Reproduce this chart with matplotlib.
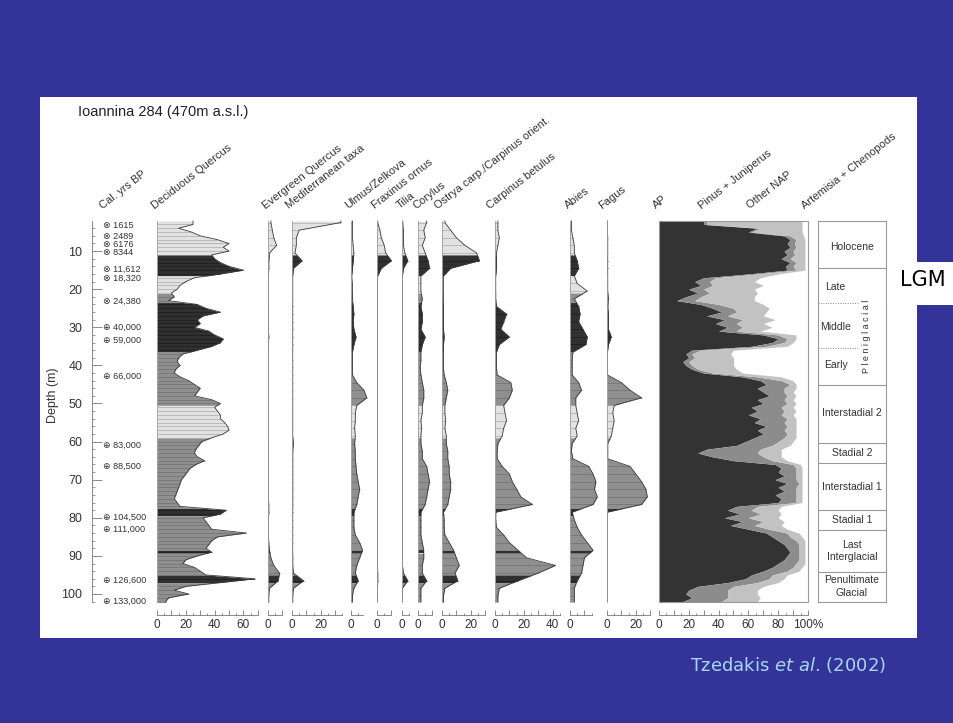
import numpy as np
import matplotlib.pyplot as plt
from matplotlib.patches import Rectangle
from matplotlib.ticker import MultipleLocator, FuncFormatter

plt.rcParams['font.family'] = ['Liberation Sans', 'DejaVu Sans']

# ---------------- data ----------------
depth = np.arange(3, 103)            # 1 m samples, m
depth_b = np.arange(2.5, 101, 2)     # 2 m samples, m

quercus = [25, 15, 24, 30, 42, 50, 46, 50, 38, 40,
           44, 50, 60, 44, 26, 20, 16, 14, 10, 12,
           8, 28, 34, 44, 32, 28, 30, 26, 36, 40,
           46, 44, 38, 28, 18, 15, 14, 16, 13, 12,
           16, 22, 26, 30, 28, 26, 38, 44, 40, 42,
           44, 44, 47, 49, 50, 46, 38, 31, 29, 27,
           26, 28, 33, 27, 23, 21, 19, 17, 16, 15,
           14, 13, 12, 14, 16, 48, 44, 32, 34, 36,
           38, 62, 42, 38, 36, 34, 38, 28, 20, 18,
           26, 30, 34, 68, 44, 20, 12, 22, 8, 6]

evergreen = [2, 3, 4, 6, 1, 0.5, 0.5, 0.3, 0.3, 0.3,
             0.3, 0.3, 0.3, 0.3, 0.3, 0.5, 0.3, 0.3, 0.3, 0.3,
             0.3, 0.3, 0.3, 0.3, 0.3, 0.3, 0.3, 0.3, 0.3, 0.3,
             0.3, 0.3, 0.3, 0.3, 0.3, 0.3, 0.3, 0.5, 0.5, 0.3,
             0.3, 0.3, 0.5, 1, 2, 4, 8, 7, 1, 0.5]

mediterranean = [34, 5, 3, 3, 2, 7, 1, 0.5, 0.5, 0.5,
                 0.5, 0.5, 0.5, 0.5, 0.5, 0.5, 0.5, 0.5, 0.5, 0.5,
                 0.5, 0.5, 0.5, 0.5, 0.5, 0.5, 0.5, 0.5, 0.5, 1,
                 0.5, 0.5, 0.5, 0.5, 0.5, 0.5, 0.5, 0.5, 0.5, 0.5,
                 0.5, 0.5, 0.5, 0.5, 0.5, 0.5, 1, 8, 1, 0.5]

ulmus = [1, 1, 1, 1.5, 2, 1.5, 1, 0.5, 1, 1,
         1, 1.5, 2, 1.5, 2, 3.5, 2, 1, 1, 1,
         1, 4, 9, 11, 4, 3, 3, 2.5, 3, 2.5,
         3, 3, 3.5, 4, 5, 6, 5, 4, 2, 2,
         2, 3, 6, 8, 6, 4, 3, 5, 2, 1]

fraxinus = [0.5, 2, 3, 5, 6, 10, 3, 0.5, 0.3, 0.3,
            0.3, 0.3, 0.3, 0.3, 0.3, 0.3, 0.3, 0.3, 0.3, 0.3,
            0.3, 0.3, 0.3, 0.3, 0.3, 0.3, 0.3, 0.3, 0.3, 0.3,
            0.3, 0.3, 0.3, 0.3, 0.3, 0.3, 0.3, 0.3, 0.3, 0.3,
            0.3, 0.3, 0.3, 0.3, 0.3, 0.3, 0.5, 0.5, 0.3, 0.3]

tilia = [0.5, 1, 1, 1, 2, 4, 1, 0.3, 0.3, 0.3,
         0.3, 0.3, 0.3, 0.3, 0.3, 0.3, 0.3, 0.3, 0.3, 0.3,
         0.3, 0.3, 0.3, 0.3, 0.3, 0.3, 0.3, 0.3, 0.3, 0.3,
         0.3, 0.3, 0.3, 0.3, 0.3, 0.3, 0.3, 0.3, 0.3, 0.3,
         0.3, 0.3, 0.3, 0.3, 0.3, 0.3, 1, 4, 0.3, 0.3]

corylus = [6, 4, 5, 3, 5, 7, 8, 2, 2, 2,
           3, 2, 3, 3, 2, 5, 3, 2, 2, 1.5,
           2, 3, 4, 4, 3, 3, 2, 2.5, 2, 2,
           3, 3, 6, 7, 8, 7, 6, 5, 2, 2,
           2, 2, 3, 4, 4, 3, 3, 6, 2, 2]

ostrya = [2, 6, 10, 16, 24, 26, 6, 1, 1, 1,
          1, 1, 1, 1, 1, 1.5, 1, 1, 1, 1,
          1.5, 3, 4, 3, 2, 2, 2.5, 2, 3, 3,
          4, 4, 5, 5, 6, 6, 5, 4, 1, 1.5,
          1.5, 2, 5, 8, 10, 12, 9, 11, 2, 1]

carpinus = [2, 2, 3, 2, 1, 1, 1, 0.5, 0.5, 0.5,
            0.5, 1, 8, 6, 4, 10, 3, 1, 1, 1,
            1.5, 11, 12, 10, 6, 7, 8, 6, 5, 2,
            1.5, 1.5, 5, 10, 12, 15, 18, 26, 0.5, 0.5,
            1, 6, 10, 16, 22, 42, 30, 16, 3, 2]

abies = [1, 1, 2, 3, 3, 5, 6, 3, 5, 12,
         3, 6, 7, 6, 9, 12, 11, 2, 1.5, 1.5,
         1.5, 6, 8, 4, 4, 5, 6, 4, 5, 1.5,
         1, 2, 13, 16, 18, 17, 19, 16, 1.5, 3,
         5, 8, 12, 16, 10, 9, 8, 5, 3, 3]

fagus = [0.3, 0.3, 0.5, 0.5, 0.5, 0.5, 0.5, 0.5, 0.5, 0.5,
         1, 0.5, 1, 1, 1, 3, 1, 0.3, 0.3, 0.3,
         0.3, 10, 16, 24, 5, 4, 5, 4, 3, 0.5,
         0.5, 0.5, 16, 20, 24, 27, 28, 24, 0.3, 0.3,
         0.3, 0.3, 0.3, 0.3, 0.3, 0.3, 0.3, 0.3, 0.3, 0.3]

# summary diagram, % of total (Artemisia + Chenopods = remainder)
ap = [30, 66, 60, 84, 88, 86, 88, 84, 86, 82,
      88, 85, 86, 60, 30, 24, 28, 20, 26, 18,
      12, 28, 36, 42, 32, 44, 38, 46, 40, 70,
      80, 76, 62, 22, 18, 20, 16, 18, 22, 30,
      56, 68, 72, 66, 70, 74, 66, 70, 62, 66,
      60, 68, 64, 72, 66, 70, 64, 58, 52, 32,
      26, 36, 50, 78, 82, 80, 84, 78, 86, 80,
      84, 78, 82, 80, 52, 46, 54, 44, 56, 48,
      60, 72, 76, 80, 84, 86, 88, 86, 84, 80,
      76, 70, 62, 58, 46, 26, 20, 18, 22, 16]

pinus_jun = [2, 2, 2, 4, 4, 5, 4, 6, 5, 6,
             4, 5, 6, 6, 8, 10, 8, 10, 8, 10,
             12, 12, 14, 10, 14, 12, 14, 10, 12, 10,
             6, 8, 10, 6, 4, 4, 4, 4, 4, 6,
             10, 14, 16, 18, 14, 12, 18, 16, 20, 18,
             22, 18, 20, 14, 18, 16, 20, 22, 24, 36,
             40, 34, 26, 12, 10, 12, 8, 14, 8, 12,
             8, 14, 10, 12, 14, 16, 14, 16, 14, 16,
             14, 14, 12, 12, 10, 8, 6, 8, 10, 12,
             14, 16, 14, 16, 20, 24, 26, 28, 24, 26]

other_nap = [64, 28, 34, 9, 6, 7, 6, 8, 7, 10,
             6, 8, 6, 14, 30, 30, 34, 34, 32, 36,
             40, 30, 24, 20, 24, 22, 18, 20, 16, 12,
             6, 6, 14, 22, 26, 26, 30, 28, 26, 20,
             16, 8, 4, 8, 6, 6, 6, 6, 8, 8,
             8, 6, 8, 6, 8, 6, 8, 10, 12, 14,
             16, 12, 10, 5, 4, 4, 4, 4, 2, 4,
             4, 4, 4, 4, 16, 18, 14, 20, 14, 18,
             12, 8, 8, 6, 4, 4, 4, 4, 4, 6,
             6, 8, 10, 10, 14, 20, 20, 20, 22, 24]

taxa = ['Deciduous Quercus', 'Evergreen Quercus', 'Mediterranean taxa',
        'Ulmus/Zelkova', 'Fraxinus ornus', 'Tilia', 'Corylus',
        'Ostrya carp./Carpinus orient.', 'Carpinus betulus', 'Abies', 'Fagus']
taxa_values = [quercus, evergreen, mediterranean, ulmus, fraxinus, tilia,
               corylus, ostrya, carpinus, abies, fagus]
taxa_depth = [depth] + [depth_b] * 10
taxa_scale = [70, 10, 35, 8, 10, 5, 10, 30, 45, 15, 30]

summary_labels = ['AP', 'Pinus + Juniperus', 'Other NAP', 'Artemisia + Chenopods']

# shading bands of the curves (top depth, shade)
band_top = [2.1, 11, 16.5, 21, 23.5, 36.5, 50.5, 59, 77.5, 79.5, 88.5, 89.3, 95, 97]
band_shade = ['light', 'dark', 'light', 'mid', 'dark', 'mid', 'light', 'mid',
              'dark', 'mid', 'dark', 'mid', 'dark', 'mid']

dates = ['1615', '2489', '6176', '8344', '11,612', '18,320', '24,380', '40,000',
         '59,000', '66,000', '83,000', '88,500', '104,500', '111,000',
         '126,600', '133,000']
date_depth = [3.2, 6.1, 8.2, 10.3, 14.9, 17.2, 23.3, 30.0, 33.4, 42.8,
              61.1, 66.4, 80.0, 83.0, 96.3, 101.8]
n_radiocarbon = 7

zones = ['Holocene', 'Late', 'Middle', 'Early', 'Interstadial 2', 'Stadial 2',
         'Interstadial 1', 'Stadial 1', 'Last\nInterglacial', 'Penultimate\nGlacial']
zone_label_depth = [8.9, 19.4, 29.8, 40.0, 52.5, 63.0, 72.0, 80.5, 88.7, 98.0]
zone_bounds = [14.5, 45.2, 60.3, 65.6, 78.0, 83.2, 94.2]
sub_bounds = [23.6, 35.5]

# ---------------- layout ----------------
W, H = 954, 723
TOP, BOT = 221, 602
DMIN, DMAX = 2.1, 102.1
PX_PCT = 1.44

BAND_FILL = {'dark': '#303030', 'mid': '#8f8f8f', 'light': '#e2e2e2'}
BAND_LINE = {'dark': '#1c1c1c', 'mid': '#707070', 'light': '#a9a9a9'}


def fx(px):
    return px / W


def fy(py):
    return 1 - py / H


fig = plt.figure(figsize=(W / 100, H / 100), dpi=100, facecolor='#333399')
fig.add_artist(Rectangle((fx(40), fy(638)), 877 / W, (638 - 97) / H,
                         transform=fig.transFigure, fc='white', ec='none', zorder=-10))


def panel(left_px, width_px):
    ax = fig.add_axes([fx(left_px), fy(BOT), width_px / W, (BOT - TOP) / H])
    ax.set_facecolor('none')
    ax.set_ylim(DMAX, DMIN)
    ax.set_yticks([])
    return ax


def bottom_scale(ax, vmax, pct=False):
    for s in ['top', 'right']:
        ax.spines[s].set_visible(False)
    ax.spines['bottom'].set_position(('outward', 9.4))
    ax.spines['bottom'].set_bounds(0, vmax)
    ax.spines['bottom'].set_color('#777777')
    ax.spines['bottom'].set_linewidth(0.6)
    ax.xaxis.set_major_locator(MultipleLocator(10))
    ax.xaxis.set_minor_locator(MultipleLocator(5))

    def fmt(v, p):
        if v % 20:
            return ''
        if pct and v == 100:
            return '100%'
        return f'{v:.0f}'
    ax.xaxis.set_major_formatter(FuncFormatter(fmt))
    ax.tick_params(axis='x', which='major', direction='in', length=3.5, width=0.6,
                   color='#777777', labelsize=8.5, labelcolor='#333333', pad=3)
    ax.tick_params(axis='x', which='minor', direction='in', length=1.8, width=0.6,
                   color='#777777')


def draw_curve(ax, d, v):
    d = np.asarray(d, float)
    v = np.asarray(v, float)
    tops = band_top
    bots = band_top[1:] + [DMAX]
    for top, bot, shade in zip(tops, bots, band_shade):
        inside = (d > top) & (d < bot)
        dd = np.concatenate([[top], d[inside], [bot]])
        vv = np.interp(dd, d, v)
        ax.fill_betweenx(dd, 0, vv, color=BAND_FILL[shade], lw=0, clip_on=False)
        ax.hlines(d[inside], 0, v[inside], color=BAND_LINE[shade], lw=0.5, clip_on=False)
    dd = np.concatenate([[DMIN], d, [DMAX]])
    ax.plot(np.interp(dd, d, v), dd, color='#3c3c3c', lw=0.6, clip_on=False)


panel_left = [157, 268, 292, 351, 377, 402, 418, 442, 495, 570, 607]
label_x = [155, 266, 289, 348, 375, 400, 416, 438, 490, 568, 602]

for name, vals, d, vmax, left, lx in zip(taxa, taxa_values, taxa_depth, taxa_scale,
                                         panel_left, label_x):
    ax = panel(left, vmax * PX_PCT)
    ax.set_xlim(0, vmax)
    draw_curve(ax, d, vals)
    ax.spines['left'].set_color('#9a9a9a')
    ax.spines['left'].set_linewidth(0.6)
    bottom_scale(ax, vmax)
    fig.text(fx(lx), fy(209), name, rotation=38, rotation_mode='anchor',
             ha='left', va='baseline', fontsize=8, color='#333333')

# summary (stacked) diagram
ax = panel(659, 149)
ax.set_xlim(0, 100)
c1 = np.array(ap, float)
c2 = c1 + np.array(pinus_jun, float)
c3 = c2 + np.array(other_nap, float)
dd = np.concatenate([[DMIN], depth, [DMAX]])
c1, c2, c3 = (np.interp(dd, depth, c) for c in (c1, c2, c3))
ax.fill_betweenx(dd, 0, c1, color='#333333', lw=0)
ax.fill_betweenx(dd, c1, c2, color='#8c8c8c', lw=0)
ax.fill_betweenx(dd, c2, c3, color='#c2c2c2', lw=0)
ax.spines['left'].set_visible(False)
ax.add_patch(Rectangle((0, 0), 1, 1, transform=ax.transAxes, fill=False,
                       ec='#999999', lw=0.8, clip_on=False))
bottom_scale(ax, 100, pct=True)
for name, lx in zip(summary_labels, [656, 702, 750, 805]):
    fig.text(fx(lx), fy(209), name, rotation=38, rotation_mode='anchor',
             ha='left', va='baseline', fontsize=8, color='#333333')

# depth axis with dates
ax_d = fig.add_axes([fx(92), fy(BOT), 0.0001, (BOT - TOP) / H])
ax_d.set_facecolor('none')
ax_d.set_ylim(DMAX, DMIN)
for s in ['top', 'right', 'bottom']:
    ax_d.spines[s].set_visible(False)
ax_d.spines['left'].set_color('#777777')
ax_d.spines['left'].set_linewidth(0.6)
ax_d.set_xticks([])
ax_d.yaxis.set_major_locator(MultipleLocator(10))
ax_d.yaxis.set_minor_locator(MultipleLocator(2))
ax_d.tick_params(axis='y', which='major', direction='in', length=7, width=0.6,
                 color='#777777', labelsize=9, labelcolor='#333333', pad=7)
ax_d.tick_params(axis='y', which='minor', direction='in', length=2.5, width=0.5,
                 color='#777777')
for i, (lab, d) in enumerate(zip(dates, date_depth)):
    sym = '\u2297' if i < n_radiocarbon else '\u2295'
    ax_d.annotate(f'{sym} {lab}', xy=(0, d), xycoords=('axes fraction', 'data'),
                  xytext=(8, 0), textcoords='offset points', ha='left', va='center',
                  fontsize=6.6, color='#333333', annotation_clip=False)
fig.text(fx(53), fy(395), 'Depth (m)', rotation=90, ha='center', va='center',
         fontsize=9, color='#333333')
fig.text(fx(103), fy(209), 'Cal. yrs BP', rotation=38, rotation_mode='anchor',
         ha='left', va='baseline', fontsize=8, color='#333333')

# zone column
ax_z = fig.add_axes([fx(818), fy(BOT), 68 / W, (BOT - TOP) / H])
ax_z.set_facecolor('none')
ax_z.set_ylim(DMAX, DMIN)
ax_z.set_xlim(0, 1)
ax_z.set_xticks([])
ax_z.set_yticks([])
for s in ax_z.spines.values():
    s.set_color('#999999')
    s.set_linewidth(0.8)
for b in zone_bounds:
    ax_z.axhline(b, color='#999999', lw=0.8)
for b in sub_bounds:
    ax_z.axhline(b, xmin=0, xmax=0.6, color='#888888', lw=0.7, ls=(0, (1, 1.5)))
for name, d in zip(zones, zone_label_depth):
    xpos = 0.26 if name in ('Late', 'Middle', 'Early') else 0.5
    ax_z.text(xpos, d, name, ha='center', va='center', fontsize=7.5,
              color='#333333', linespacing=1.3)
ax_z.text(0.72, 32.5, 'P l e n i g l a c i a l', rotation=90, ha='center',
          va='center', fontsize=6.5, color='#333333')

# title, LGM tag and source
fig.text(fx(78), fy(112), 'Ioannina 284 (470m a.s.l.)', ha='left', va='center',
         fontsize=10.5, color='#222222')
fig.add_artist(Rectangle((fx(887), fy(305)), (954 - 887) / W, 43 / H,
                         transform=fig.transFigure, fc='white', ec='none', zorder=5))
fig.text(fx(923), fy(280), 'LGM', ha='center', va='center', fontsize=15,
         family='DejaVu Sans', color='black', zorder=6)
fig.text(fx(788), fy(665), 'Tzedakis $\\it{et\\ al}$. (2002)', ha='center',
         va='center', fontsize=13, family='DejaVu Sans', color='#a8d8f0')

fig.savefig('out.png', dpi=100, facecolor=fig.get_facecolor())
